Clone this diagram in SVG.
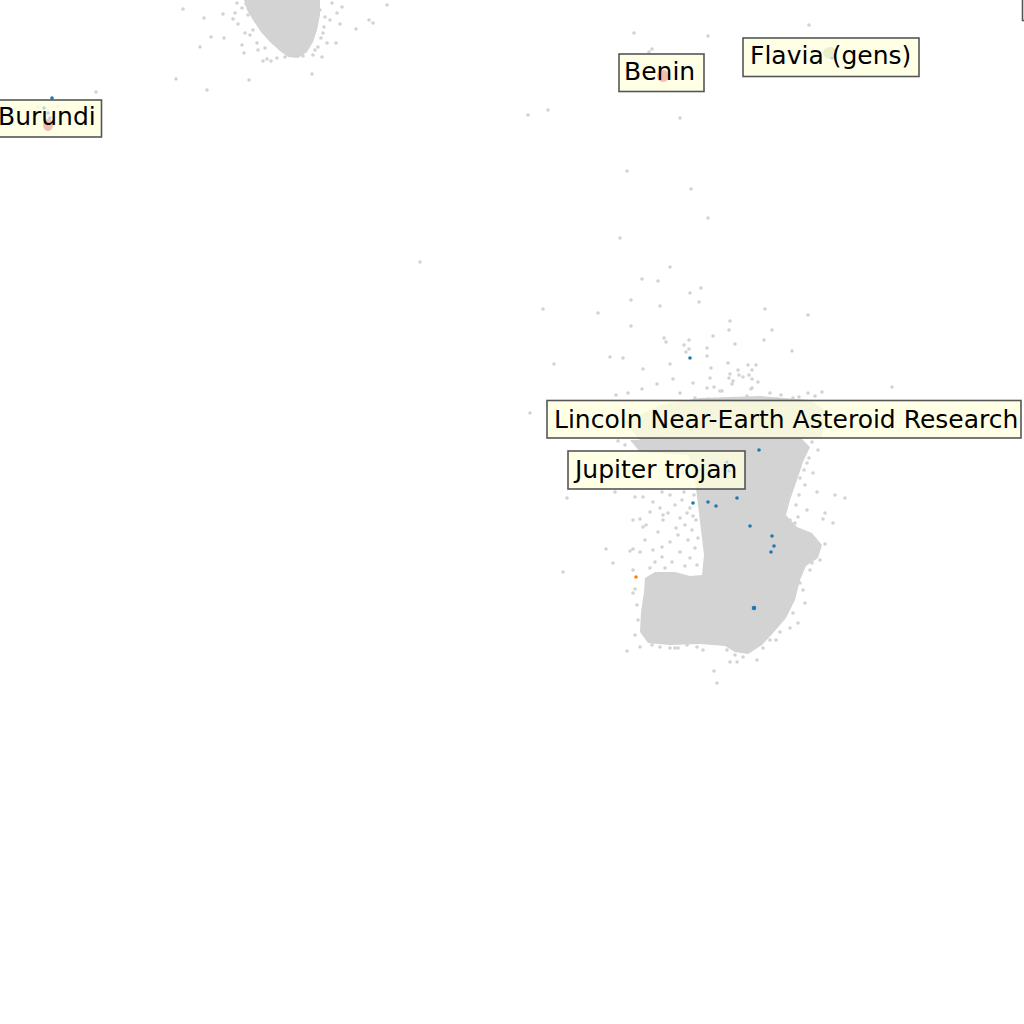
<svg xmlns="http://www.w3.org/2000/svg" width="1024" height="1024" viewBox="0 0 1024 1024">
<style>
.bg{fill:#ffffff}
.d{fill:#d3d3d3}
.dots circle{fill:#d3d3d3}
.b{fill:#1f77b4}
.o{fill:#ff7f0e}
.lb{fill:#b5d6e6}
.pk{fill:#f0b4a2;fill-opacity:0.85}
.box{fill:#ffffe0;fill-opacity:0.8;stroke:#4d4d4d;stroke-opacity:0.95;stroke-width:1.6}
.t{font-family:"DejaVu Sans","Liberation Sans",sans-serif;font-size:25px;fill:#000}
</style>
<rect class="bg" x="0" y="0" width="1024" height="1024"/>
<g id="points">
<path class="d" d="M244,0 L320,0 L320,15 L317,30 L313,42 L307,52 L298,58 L288,57 L280,51 L270,42 L261,32 L253,20 L247,10 Z"/>
<path class="d" d="M660,405 L700,398 L760,396 L810,400 L825,410 L822,438 L640,440 L625,422 Z"/>
<path class="d" d="M630,440 L698,438 L715,436 L760,436 L800,437 L810,447 L803,462 L797,480 L790,500 L786,515 L797,527 L812,533 L822,545 L818,558 L806,566 L800,580 L795,600 L786,618 L774,632 L762,645 L748,654 L735,652 L725,646 L700,644 L670,645 L648,643 L640,632 L641,612 L644,592 L645,578 L655,572 L675,572 L690,576 L702,575 L704,555 L701,530 L698,505 L695,480 L688,455 L640,452 Z"/>
<g class="dots">
<circle cx="183" cy="9" r="1.8"/><circle cx="204" cy="18" r="1.8"/><circle cx="223" cy="14" r="1.8"/><circle cx="211" cy="37" r="1.8"/><circle cx="224" cy="38" r="1.8"/><circle cx="200" cy="47" r="1.8"/><circle cx="233" cy="19" r="1.8"/><circle cx="238" cy="24" r="1.8"/><circle cx="242" cy="45" r="1.8"/><circle cx="244" cy="53" r="1.8"/><circle cx="245" cy="33" r="1.8"/><circle cx="250" cy="35" r="1.8"/><circle cx="253" cy="30" r="1.8"/><circle cx="257" cy="43" r="1.8"/><circle cx="263" cy="61" r="1.8"/><circle cx="267" cy="59" r="1.8"/><circle cx="271" cy="61" r="1.8"/><circle cx="277" cy="58" r="1.8"/><circle cx="285" cy="57" r="1.8"/><circle cx="296" cy="56" r="1.8"/><circle cx="303" cy="56" r="1.8"/><circle cx="313" cy="55" r="1.8"/><circle cx="322" cy="57" r="1.8"/><circle cx="318" cy="47" r="1.8"/><circle cx="327" cy="43" r="1.8"/><circle cx="336" cy="43" r="1.8"/><circle cx="323" cy="33" r="1.8"/><circle cx="324" cy="27" r="1.8"/><circle cx="330" cy="20" r="1.8"/><circle cx="337" cy="13" r="1.8"/><circle cx="342" cy="7" r="1.8"/><circle cx="332" cy="3" r="1.8"/><circle cx="340" cy="24" r="1.8"/><circle cx="356" cy="29" r="1.8"/><circle cx="369" cy="20" r="1.8"/><circle cx="373" cy="23" r="1.8"/><circle cx="387" cy="5" r="1.8"/><circle cx="312" cy="74" r="1.8"/><circle cx="249" cy="80" r="1.8"/><circle cx="176" cy="79" r="1.8"/><circle cx="207" cy="90" r="1.8"/><circle cx="237" cy="3" r="1.8"/><circle cx="242" cy="8" r="1.8"/><circle cx="235" cy="13" r="1.8"/><circle cx="248" cy="15" r="1.8"/><circle cx="246" cy="4" r="1.8"/><circle cx="320" cy="10" r="1.8"/><circle cx="325" cy="17" r="1.8"/><circle cx="258" cy="50" r="1.8"/><circle cx="265" cy="48" r="1.8"/><circle cx="315" cy="50" r="1.8"/><circle cx="321" cy="38" r="1.8"/>
<circle cx="96" cy="92" r="1.8"/><circle cx="38" cy="107" r="1.8"/><circle cx="58" cy="106" r="1.8"/>
<circle cx="634" cy="33" r="1.8"/><circle cx="708" cy="36" r="1.8"/><circle cx="652" cy="49" r="1.8"/><circle cx="649" cy="52" r="1.8"/><circle cx="680" cy="118" r="1.8"/><circle cx="809" cy="25" r="1.8"/><circle cx="528" cy="115" r="1.8"/><circle cx="548" cy="110" r="1.8"/><circle cx="420" cy="262" r="1.8"/>
<circle cx="627" cy="171" r="1.8"/><circle cx="691" cy="189" r="1.8"/><circle cx="708" cy="218" r="1.8"/><circle cx="620" cy="238" r="1.8"/><circle cx="670" cy="267" r="1.8"/><circle cx="642" cy="279" r="1.8"/><circle cx="658" cy="281" r="1.8"/><circle cx="690" cy="293" r="1.8"/><circle cx="701" cy="288" r="1.8"/><circle cx="631" cy="300" r="1.8"/><circle cx="699" cy="302" r="1.8"/><circle cx="660" cy="306" r="1.8"/><circle cx="543" cy="309" r="1.8"/><circle cx="598" cy="313" r="1.8"/><circle cx="631" cy="326" r="1.8"/><circle cx="765" cy="309" r="1.8"/><circle cx="808" cy="315" r="1.8"/><circle cx="730" cy="321" r="1.8"/><circle cx="729" cy="330" r="1.8"/><circle cx="772" cy="330" r="1.8"/><circle cx="713" cy="336" r="1.8"/><circle cx="664" cy="338" r="1.8"/><circle cx="666" cy="342" r="1.8"/><circle cx="689" cy="340" r="1.8"/><circle cx="684" cy="345" r="1.8"/><circle cx="735" cy="344" r="1.8"/><circle cx="764" cy="340" r="1.8"/><circle cx="689" cy="349" r="1.8"/><circle cx="686" cy="352" r="1.8"/><circle cx="707" cy="348" r="1.8"/><circle cx="792" cy="351" r="1.8"/><circle cx="707" cy="356" r="1.8"/><circle cx="610" cy="357" r="1.8"/><circle cx="623" cy="358" r="1.8"/><circle cx="554" cy="364" r="1.8"/><circle cx="670" cy="364" r="1.8"/><circle cx="728" cy="363" r="1.8"/><circle cx="748" cy="365" r="1.8"/><circle cx="756" cy="365" r="1.8"/><circle cx="711" cy="368" r="1.8"/><circle cx="738" cy="370" r="1.8"/><circle cx="752" cy="370" r="1.8"/><circle cx="643" cy="369" r="1.8"/><circle cx="730" cy="374" r="1.8"/><circle cx="739" cy="375" r="1.8"/><circle cx="743" cy="377" r="1.8"/><circle cx="749" cy="375" r="1.8"/><circle cx="733" cy="381" r="1.8"/><circle cx="729" cy="378" r="1.8"/><circle cx="752" cy="379" r="1.8"/><circle cx="758" cy="382" r="1.8"/><circle cx="710" cy="378" r="1.8"/><circle cx="673" cy="379" r="1.8"/><circle cx="693" cy="383" r="1.8"/><circle cx="657" cy="384" r="1.8"/><circle cx="732" cy="384" r="1.8"/><circle cx="714" cy="387" r="1.8"/><circle cx="707" cy="388" r="1.8"/><circle cx="720" cy="391" r="1.8"/><circle cx="722" cy="391" r="1.8"/><circle cx="752" cy="388" r="1.8"/><circle cx="751" cy="389" r="1.8"/><circle cx="642" cy="389" r="1.8"/><circle cx="680" cy="393" r="1.8"/><circle cx="628" cy="393" r="1.8"/><circle cx="616" cy="395" r="1.8"/><circle cx="770" cy="393" r="1.8"/><circle cx="781" cy="395" r="1.8"/><circle cx="747" cy="396" r="1.8"/><circle cx="808" cy="393" r="1.8"/><circle cx="822" cy="392" r="1.8"/><circle cx="815" cy="396" r="1.8"/><circle cx="892" cy="387" r="1.8"/><circle cx="793" cy="398" r="1.8"/><circle cx="799" cy="397" r="1.8"/><circle cx="777" cy="399" r="1.8"/><circle cx="695" cy="398" r="1.8"/><circle cx="708" cy="399" r="1.8"/><circle cx="730" cy="399" r="1.8"/><circle cx="530" cy="413" r="1.8"/>
<circle cx="625" cy="445" r="1.8"/><circle cx="618" cy="441" r="1.8"/><circle cx="812" cy="442" r="1.8"/><circle cx="818" cy="450" r="1.8"/><circle cx="807" cy="463" r="1.8"/><circle cx="813" cy="473" r="1.8"/><circle cx="800" cy="478" r="1.8"/><circle cx="805" cy="485" r="1.8"/><circle cx="817" cy="492" r="1.8"/><circle cx="835" cy="495" r="1.8"/><circle cx="845" cy="498" r="1.8"/><circle cx="807" cy="510" r="1.8"/><circle cx="825" cy="513" r="1.8"/><circle cx="823" cy="519" r="1.8"/><circle cx="790" cy="520" r="1.8"/><circle cx="795" cy="523" r="1.8"/><circle cx="798" cy="517" r="1.8"/><circle cx="833" cy="523" r="1.8"/><circle cx="825" cy="544" r="1.8"/><circle cx="796" cy="505" r="1.8"/><circle cx="799" cy="495" r="1.8"/><circle cx="804" cy="470" r="1.8"/><circle cx="809" cy="458" r="1.8"/>
<circle cx="567" cy="498" r="1.8"/><circle cx="615" cy="492" r="1.8"/><circle cx="635" cy="497" r="1.8"/><circle cx="643" cy="497" r="1.8"/><circle cx="653" cy="502" r="1.8"/><circle cx="633" cy="520" r="1.8"/><circle cx="640" cy="519" r="1.8"/><circle cx="646" cy="525" r="1.8"/><circle cx="643" cy="527" r="1.8"/><circle cx="658" cy="532" r="1.8"/><circle cx="663" cy="515" r="1.8"/><circle cx="663" cy="520" r="1.8"/><circle cx="668" cy="513" r="1.8"/><circle cx="680" cy="518" r="1.8"/><circle cx="687" cy="513" r="1.8"/><circle cx="606" cy="549" r="1.8"/><circle cx="613" cy="563" r="1.8"/><circle cx="630" cy="551" r="1.8"/><circle cx="633" cy="549" r="1.8"/><circle cx="640" cy="552" r="1.8"/><circle cx="645" cy="540" r="1.8"/><circle cx="653" cy="550" r="1.8"/><circle cx="662" cy="547" r="1.8"/><circle cx="670" cy="542" r="1.8"/><circle cx="655" cy="562" r="1.8"/><circle cx="662" cy="557" r="1.8"/><circle cx="633" cy="570" r="1.8"/><circle cx="633" cy="593" r="1.8"/><circle cx="635" cy="589" r="1.8"/><circle cx="563" cy="572" r="1.8"/>
<circle cx="675" cy="505" r="1.8"/><circle cx="682" cy="500" r="1.8"/><circle cx="690" cy="508" r="1.8"/><circle cx="685" cy="525" r="1.8"/><circle cx="692" cy="530" r="1.8"/><circle cx="678" cy="535" r="1.8"/><circle cx="688" cy="540" r="1.8"/><circle cx="695" cy="548" r="1.8"/><circle cx="680" cy="552" r="1.8"/><circle cx="690" cy="558" r="1.8"/><circle cx="672" cy="562" r="1.8"/><circle cx="685" cy="566" r="1.8"/><circle cx="697" cy="565" r="1.8"/><circle cx="665" cy="568" r="1.8"/><circle cx="650" cy="568" r="1.8"/><circle cx="676" cy="528" r="1.8"/><circle cx="696" cy="520" r="1.8"/><circle cx="694" cy="495" r="1.8"/><circle cx="670" cy="495" r="1.8"/><circle cx="660" cy="508" r="1.8"/><circle cx="650" cy="512" r="1.8"/><circle cx="684" cy="492" r="1.8"/><circle cx="662" cy="492" r="1.8"/><circle cx="698" cy="538" r="1.8"/><circle cx="693" cy="516" r="1.8"/>
<circle cx="627" cy="651" r="1.8"/><circle cx="635" cy="635" r="1.8"/><circle cx="640" cy="647" r="1.8"/><circle cx="652" cy="645" r="1.8"/><circle cx="670" cy="648" r="1.8"/><circle cx="675" cy="648" r="1.8"/><circle cx="678" cy="648" r="1.8"/><circle cx="687" cy="645" r="1.8"/><circle cx="697" cy="647" r="1.8"/><circle cx="727" cy="650" r="1.8"/><circle cx="735" cy="655" r="1.8"/><circle cx="737" cy="662" r="1.8"/><circle cx="730" cy="662" r="1.8"/><circle cx="743" cy="657" r="1.8"/><circle cx="757" cy="660" r="1.8"/><circle cx="763" cy="648" r="1.8"/><circle cx="770" cy="640" r="1.8"/><circle cx="780" cy="632" r="1.8"/><circle cx="798" cy="623" r="1.8"/><circle cx="793" cy="613" r="1.8"/><circle cx="805" cy="603" r="1.8"/><circle cx="803" cy="590" r="1.8"/><circle cx="800" cy="583" r="1.8"/><circle cx="714" cy="671" r="1.8"/><circle cx="717" cy="683" r="1.8"/><circle cx="703" cy="650" r="1.8"/><circle cx="810" cy="570" r="1.8"/><circle cx="812" cy="563" r="1.8"/><circle cx="820" cy="560" r="1.8"/><circle cx="747" cy="650" r="1.8"/><circle cx="660" cy="647" r="1.8"/><circle cx="638" cy="620" r="1.8"/><circle cx="637" cy="605" r="1.8"/><circle cx="790" cy="628" r="1.8"/><circle cx="776" cy="640" r="1.8"/>
</g>
<circle class="b" cx="52" cy="98" r="1.8"/>
<circle class="b" cx="690" cy="358" r="1.8"/><circle class="b" cx="759" cy="450" r="1.8"/><circle class="b" cx="693" cy="503" r="1.8"/><circle class="b" cx="708" cy="502" r="1.8"/><circle class="b" cx="716" cy="506" r="1.8"/><circle class="b" cx="737" cy="498" r="1.8"/><circle class="b" cx="750" cy="526" r="1.8"/><circle class="b" cx="772" cy="536" r="1.8"/><circle class="b" cx="774" cy="546" r="1.8"/><circle class="b" cx="771" cy="552" r="1.8"/><circle class="b" cx="754" cy="608" r="2.3"/>
<circle class="o" cx="636" cy="577" r="1.8"/>
</g>
<g id="connectors"></g>
<g id="label-topright"><rect class="box" x="1022.5" y="-18" width="120" height="38.5"/></g>
<g id="label-burundi"><rect class="box" x="-20" y="100" width="121.5" height="37"/><circle class="lb" cx="44" cy="108" r="1.8"/><circle class="lb" cx="48" cy="113" r="1.8"/><circle class="lb" cx="50" cy="118" r="1.8"/><ellipse class="pk" cx="48" cy="125" rx="5" ry="6"/><text class="t" x="-2" y="125">Burundi</text></g>
<g id="label-benin"><rect class="box" x="619" y="54" width="85" height="37.5"/><ellipse class="pk" cx="663" cy="76" rx="6" ry="6"/><text class="t" x="624" y="80">Benin</text></g>
<g id="label-flavia"><rect class="box" x="743" y="38" width="176" height="38.5"/><ellipse cx="830" cy="53" rx="7" ry="6" fill="#e3eac4" fill-opacity="0.8"/><circle class="lb" cx="832" cy="58" r="1.6"/><text class="t" x="750" y="64">Flavia (gens)</text></g>
<g id="label-lincoln"><rect class="box" x="547" y="400.5" width="474" height="37.5"/><text class="t" x="554" y="428">Lincoln Near-Earth Asteroid Research</text></g>
<g id="label-jupiter"><rect class="box" x="568" y="451" width="177" height="38"/><circle class="lb" cx="727" cy="462" r="1.6"/><circle class="lb" cx="729" cy="471" r="1.6"/><text class="t" x="575" y="478">Jupiter trojan</text></g>
</svg>
